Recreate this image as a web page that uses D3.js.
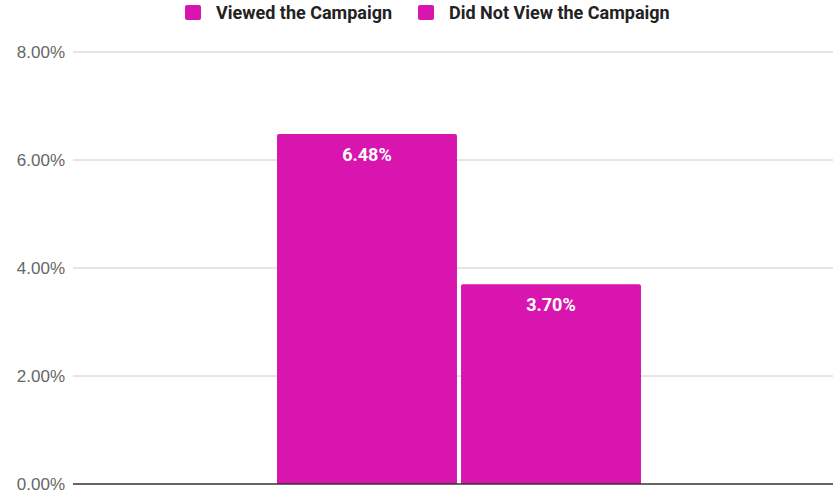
<!DOCTYPE html>
<html>
<head>
<meta charset="utf-8">
<script src="https://cdn.jsdelivr.net/npm/d3@7"></script>
<style>
  body { margin: 0; background: #fff; }
  svg { display: block; font-family: Roboto, Arial, sans-serif; }
  .y.axis text { fill: #666; font-size: 17px; }
  .legend text { fill: #222; font-size: 18px; font-weight: bold; }
  .label { fill: #fff; font-size: 18px; font-weight: bold; }
</style>
</head>
<body>
<svg></svg>
<script>
'use strict';

var categories = [''];
var seriesNames = ['Viewed the Campaign', 'Did Not View the Campaign'];
var seriesValues = [0.0648, 0.0370];
var yTicks = [0, 0.02, 0.04, 0.06, 0.08];

var WIDTH = 833,
  HEIGHT = 493,
  MARGIN = { left: 75, top: 52, bottom: 9 },
  COLOR = '#d915b0';

var svg = d3.select('svg')
  .attr('width', WIDTH)
  .attr('height', HEIGHT);

var yScale = d3.scaleLinear()
  .domain([0, 0.08])
  .range([HEIGHT - MARGIN.bottom, MARGIN.top]);

var x0 = d3.scaleBand()
  .domain(categories)
  .range([MARGIN.left, 843])
  .paddingOuter(0.555);

var x1 = d3.scaleBand()
  .domain(seriesNames)
  .range([0, x0.bandwidth()])
  .paddingInner(0.022);

// y axis with gridlines
var yAxis = d3.axisLeft(yScale)
  .tickValues(yTicks)
  .tickSize(0)
  .tickPadding(10)
  .tickFormat(d3.format('.2%'));

var yg = svg.append('g')
  .attr('class', 'y axis')
  .attr('transform', 'translate(' + MARGIN.left + ',0)')
  .call(yAxis);
yg.select('.domain').remove();

svg.append('g')
  .selectAll('line')
  .data(yTicks.slice(1))
  .enter().append('line')
  .attr('x1', MARGIN.left - 2)
  .attr('x2', WIDTH)
  .attr('y1', function(d) { return yScale(d); })
  .attr('y2', function(d) { return yScale(d); })
  .attr('stroke', '#cccccc')
  .attr('stroke-width', 1);

// bars
var group = svg.append('g')
  .attr('transform', 'translate(' + x0(categories[0]) + ',0)');

group.selectAll('path.bar')
  .data(seriesValues)
  .enter().append('path')
  .attr('class', 'bar')
  .attr('fill', COLOR)
  .attr('d', function(d, i) {
    var x = x1(seriesNames[i]), w = x1.bandwidth(),
      y = yScale(d), b = yScale(0), r = 2;
    return 'M' + x + ',' + b +
      'V' + (y + r) + 'Q' + x + ',' + y + ' ' + (x + r) + ',' + y +
      'H' + (x + w - r) + 'Q' + (x + w) + ',' + y + ' ' + (x + w) + ',' + (y + r) +
      'V' + b + 'Z';
  });

group.selectAll('text.label')
  .data(seriesValues)
  .enter().append('text')
  .attr('class', 'label')
  .attr('text-anchor', 'middle')
  .attr('x', function(d, i) { return x1(seriesNames[i]) + x1.bandwidth() / 2; })
  .attr('y', function(d) { return yScale(d) + 27; })
  .text(function(d) { return d3.format('.2%')(d); });

// baseline
svg.append('line')
  .attr('x1', MARGIN.left - 2)
  .attr('x2', WIDTH)
  .attr('y1', yScale(0))
  .attr('y2', yScale(0))
  .attr('stroke', '#333')
  .attr('stroke-width', 1.5);

// legend
var legendX = [185, 418];
var legend = svg.append('g').attr('class', 'legend');
seriesNames.forEach(function(name, i) {
  legend.append('rect')
    .attr('x', legendX[i])
    .attr('y', 5)
    .attr('width', 16)
    .attr('height', 15)
    .attr('rx', 2)
    .attr('fill', COLOR);
  legend.append('text')
    .attr('x', legendX[i] + 31)
    .attr('y', 19)
    .text(name);
});
</script>
</body>
</html>
